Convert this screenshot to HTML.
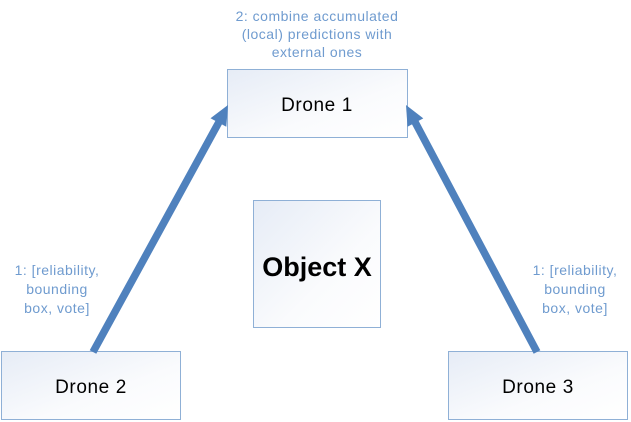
<!DOCTYPE html>
<html><head><style>
html,body{margin:0;padding:0;background:#fff;}
svg{display:block;}
text{font-family:"Liberation Sans",sans-serif;}
</style></head><body>
<svg width="631" height="422" viewBox="0 0 631 422" xmlns="http://www.w3.org/2000/svg">
<defs>
<linearGradient id="g" x1="0" y1="0" x2="1" y2="1">
<stop offset="0" stop-color="#e6ecf6"/><stop offset="0.6" stop-color="#fafbfd"/><stop offset="1" stop-color="#ffffff"/>
</linearGradient>
</defs>
<g fill="url(#g)" stroke="#8fb0d6" stroke-width="1">
<rect x="227.5" y="69.5" width="180" height="68"/>
<rect x="1.5" y="351.5" width="179" height="68"/>
<rect x="448.5" y="351.5" width="179" height="68"/>
<rect x="253.5" y="200.5" width="127" height="127"/>
</g>
<g stroke="#4f81bd" stroke-width="7.5">
<line x1="93" y1="352" x2="219" y2="122"/>
<line x1="537" y1="352" x2="415" y2="122"/>
</g>
<g fill="#4f81bd">
<polygon points="228,105 226.3,126.8 210.5,118.2"/>
<polygon points="406,105 423.3,118.4 407.5,126.8"/>
</g>
<g fill="#000" font-size="19" letter-spacing="0.6" text-anchor="middle">
<text x="317" y="111">Drone 1</text>
<text x="91" y="393">Drone 2</text>
<text x="538" y="393">Drone 3</text>
</g>
<text x="317" y="276" font-size="27" font-weight="bold" text-anchor="middle">Object X</text>
<g fill="#6f9bcf" font-size="14" letter-spacing="0.5" text-anchor="middle">
<text x="317" y="21">2: combine accumulated</text>
<text x="317" y="39">(local) predictions with</text>
<text x="317" y="57">external ones</text>
<text x="57" y="275">1: [reliability,</text>
<text x="57" y="294">bounding</text>
<text x="57" y="313">box, vote]</text>
<text x="575" y="275">1: [reliability,</text>
<text x="575" y="294">bounding</text>
<text x="575" y="313">box, vote]</text>
</g>
</svg>
</body></html>
